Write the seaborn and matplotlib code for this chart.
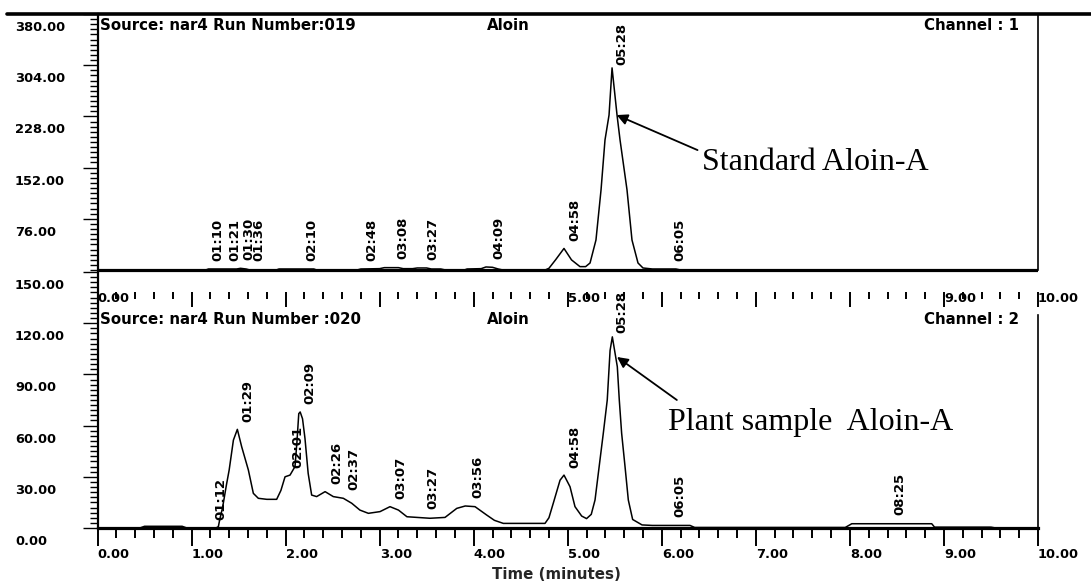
import numpy as np
import matplotlib
matplotlib.use("Agg")
import matplotlib.pyplot as plt
import seaborn as sns
from matplotlib.lines import Line2D
from matplotlib.ticker import FixedLocator
from matplotlib.transforms import ScaledTranslation

# ---------------- data ----------------
# Standard (Channel 1) chromatogram: retention time (min) / signal
std_time = [
    0.00, 1.15, 1.18, 1.48, 1.52, 1.58, 1.62, 1.90, 1.93, 2.30,
    2.33, 2.76, 2.80, 3.00, 3.05, 3.20, 3.25, 3.35, 3.40, 3.50,
    3.55, 3.65, 3.70, 3.90, 3.93, 4.08, 4.13, 4.20, 4.26, 4.31,
    4.76, 4.80, 4.87, 4.96, 5.04, 5.13, 5.19, 5.237, 5.30, 5.354,
    5.396, 5.439, 5.471, 5.524, 5.556, 5.63, 5.683, 5.747, 5.80, 5.90,
    6.15, 6.20, 10.00]
std_signal = [
    0, 0, 1.5, 1.5, 2.5, 1.5, 0, 0, 1.5, 1.5,
    0, 0, 1.5, 2, 3.5, 3.5, 2, 2, 3, 3,
    1.5, 1.5, 0, 0, 1.5, 2, 4.5, 4, 1.5, 0,
    0, 2.5, 15, 32, 15, 5, 5, 10.4, 44.5, 119,
    193, 230, 300, 230, 193, 119, 44.5, 10.4, 3, 1.5,
    1.5, 0, 0]

# Plant sample (Channel 2) chromatogram
plant_time = [
    0.00, 0.45, 0.50, 0.90, 0.95, 1.26, 1.285, 1.30, 1.33, 1.37,
    1.40, 1.445, 1.487, 1.533, 1.604, 1.657, 1.71, 1.80, 1.905, 1.95,
    1.994, 2.047, 2.10, 2.12, 2.14, 2.155, 2.18, 2.206, 2.24, 2.277,
    2.33, 2.42, 2.507, 2.614, 2.703, 2.79, 2.88, 3.004, 3.11, 3.20,
    3.29, 3.535, 3.695, 3.82, 3.91, 4.014, 4.138, 4.22, 4.315, 4.758,
    4.80, 4.846, 4.918, 4.96, 5.024, 5.077, 5.148, 5.20, 5.25, 5.29,
    5.343, 5.378, 5.42, 5.45, 5.474, 5.527, 5.548, 5.573, 5.609, 5.644,
    5.69, 5.79, 5.90, 6.30, 6.35, 7.95, 8.02, 8.87, 8.90, 9.50,
    9.55, 10.00]
plant_signal = [
    0, 0, 1, 1, 0, 0, 0.8, 5, 12, 25,
    34, 51.5, 57.8, 47.6, 34, 20.3, 17.4, 16.8, 16.8, 22,
    30, 31, 36, 50, 67, 68, 64, 52.5, 32, 19.3,
    18.4, 21.3, 18.4, 17.4, 14.5, 10.5, 8.6, 9.6, 12.5, 10.5,
    6.6, 5.7, 6.2, 11.5, 12.9, 12.5, 7.6, 4.5, 2.7, 2.7,
    6, 14.5, 28, 31, 24.2, 12.5, 7, 5.5, 8, 16.4,
    40, 55.5, 75, 104, 112, 94.5, 75, 55.5, 36, 16.4,
    5, 1.8, 1.5, 1.5, 0.3, 0.3, 2.5, 2.5, 0.5, 0.5,
    0, 0]

std_peak_labels = ["01:10", "01:21", "01:30", "01:36", "02:10", "02:48",
                   "03:08", "03:27", "04:09", "04:58", "05:28", "06:05"]
std_peak_times = [1.167, 1.35, 1.5, 1.6, 2.167, 2.8,
                  3.133, 3.45, 4.15, 4.967, 5.467, 6.083]

plant_peak_labels = ["01:12", "01:29", "02:01", "02:09", "02:26", "02:37",
                     "03:07", "03:27", "03:56", "04:58", "05:28", "06:05", "08:25"]
plant_peak_times = [1.2, 1.483, 2.017, 2.15, 2.433, 2.617,
                    3.117, 3.45, 3.933, 4.967, 5.467, 6.083, 8.417]

std_yticks = [76, 152, 228, 304, 380]
plant_yticks = [0, 30, 60, 90, 120, 150]
x_major = list(range(11))
x_labels = ["0.00", "1.00", "2.00", "3.00", "4.00", "5.00",
            "6.00", "7.00", "8.00", "9.00", "10.00"]
top_x_labels = ["0.00", "", "", "", "", "5.00", "", "", "", "9.00", "10.00"]

std_header = ["Source: nar4 Run Number:019", "Aloin", "Channel : 1"]
plant_header = ["Source: nar4 Run Number :020", "Aloin", "Channel : 2"]

# ---------------- style ----------------
sns.set_theme(style="white")
plt.rcParams["font.family"] = ["DejaVu Sans"]
plt.rcParams["font.weight"] = "bold"
plt.rcParams["text.color"] = "black"
plt.rcParams["xtick.color"] = "black"
plt.rcParams["ytick.color"] = "black"
plt.rcParams["axes.edgecolor"] = "black"

W, H = 1091, 586
fig = plt.figure(figsize=(W / 100, H / 100), dpi=100)
fig.patch.set_facecolor("white")


def rect(x0, ytop, x1, ybot):
    return [x0 / W, 1 - ybot / H, (x1 - x0) / W, (ybot - ytop) / H]


ax1 = fig.add_axes(rect(97.5, 14, 1038, 292))
ax2 = fig.add_axes(rect(97.5, 272, 1038, 528))
for ax in (ax1, ax2):
    ax.set_facecolor("none")

FS = 9.4
HDR_FS = 10.8
LBL_FS = 9.5
offset_down = ScaledTranslation(0, -7 / 100, fig.dpi_scale_trans)

# ---------------- top panel: standard ----------------
ax1.axhline(0, color="black", lw=2.3, zorder=1)
sns.lineplot(x=std_time, y=std_signal, ax=ax1, color="black", linewidth=1.1,
             estimator=None, sort=False, zorder=2)
ax1.set_xlim(0, 10)
ax1.set_ylim(-32.66, 380)
ax1.spines["top"].set_visible(False)
ax1.spines["bottom"].set_visible(False)
ax1.spines["left"].set_bounds(0, 380)
ax1.spines["left"].set_linewidth(1.6)
ax1.spines["right"].set_bounds(0, 380)
ax1.spines["right"].set_linewidth(1.2)

ax1.xaxis.set_major_locator(FixedLocator(x_major))
ax1.set_xticklabels(top_x_labels)
ax1.xaxis.set_minor_locator(FixedLocator(np.arange(0, 10.01, 0.2)))
ax1.tick_params(axis="x", which="major", direction="out", length=10.8, width=1.4,
                pad=-10.8, labelsize=FS, bottom=True)
ax1.tick_params(axis="x", which="minor", direction="out", length=5, width=1.4, bottom=True)
for lbl in ax1.get_xticklabels():
    lbl.set_ha("left")

ax1.yaxis.set_major_locator(FixedLocator(std_yticks))
ax1.set_yticklabels([f"{v:.2f}" for v in std_yticks])
ax1.yaxis.set_minor_locator(FixedLocator(np.arange(0, 380.1, 7.6)))
ax1.tick_params(axis="y", which="major", direction="out", length=10.8, width=1.0,
                pad=48.6, labelsize=FS, left=True)
ax1.tick_params(axis="y", which="minor", direction="out", length=6, width=1.0, left=True)
ax1.set_xlabel("")
ax1.set_ylabel("")

# ---------------- bottom panel: plant sample ----------------
sns.lineplot(x=plant_time, y=plant_signal, ax=ax2, color="black", linewidth=1.1,
             estimator=None, sort=False, zorder=2)
ax2.set_xlim(0, 10)
ax2.set_ylim(0, 150)
ax2.spines["top"].set_visible(False)
ax2.spines["left"].set_bounds(0, 150)
ax2.spines["left"].set_linewidth(1.6)
ax2.spines["right"].set_bounds(0, 125)
ax2.spines["right"].set_linewidth(1.2)
ax2.spines["bottom"].set_linewidth(2.3)

ax2.xaxis.set_major_locator(FixedLocator(x_major))
ax2.set_xticklabels(x_labels)
ax2.xaxis.set_minor_locator(FixedLocator(np.arange(0, 10.01, 0.2)))
ax2.tick_params(axis="x", which="major", direction="out", length=13, width=1.4,
                pad=1.5, labelsize=FS, bottom=True)
ax2.tick_params(axis="x", which="minor", direction="out", length=7, width=1.4, bottom=True)
for lbl in ax2.get_xticklabels():
    lbl.set_ha("left")

ax2.yaxis.set_major_locator(FixedLocator(plant_yticks))
ax2.set_yticklabels([f"{v:.2f}" for v in plant_yticks])
ax2.yaxis.set_minor_locator(FixedLocator(np.arange(0, 150.1, 3)))
ax2.tick_params(axis="y", which="major", direction="out", length=10.8, width=1.0,
                pad=48.6, labelsize=FS, left=True)
ax2.tick_params(axis="y", which="minor", direction="out", length=6, width=1.0, left=True)
ax2.set_ylabel("")
ax2.set_xlabel("Time (minutes)", fontsize=HDR_FS, fontweight="bold", labelpad=4, x=0.4875)

for ax in (ax1, ax2):
    for tk in ax.yaxis.get_major_ticks():
        tk.label1.set_ha("left")
        tk.label1.set_va("top")
        tk.label1.set_transform(tk.label1.get_transform() + offset_down)

# ---------------- peak labels ----------------
for lbl, t in zip(std_peak_labels, std_peak_times):
    v = np.interp(t, std_time, std_signal)
    ax1.annotate(lbl, xy=(t, v), xytext=(3, 6), textcoords="offset points",
                 rotation=90, ha="left", va="bottom", fontsize=LBL_FS, fontweight="bold")
for lbl, t in zip(plant_peak_labels, plant_peak_times):
    v = np.interp(t, plant_time, plant_signal)
    ax2.annotate(lbl, xy=(t, v), xytext=(3, 6), textcoords="offset points",
                 rotation=90, ha="left", va="bottom", fontsize=LBL_FS, fontweight="bold")

# ---------------- headers ----------------
for ax, hdr, yy in ((ax1, std_header, 0.957), (ax2, plant_header, 0.8125)):
    tr = ax.get_xaxis_transform()
    ax.text(0.028, yy, hdr[0], transform=tr, ha="left", va="center", fontsize=HDR_FS, fontweight="bold")
    ax.text(4.365, yy, hdr[1], transform=tr, ha="center", va="center", fontsize=HDR_FS, fontweight="bold")
    ax.text(9.80, yy, hdr[2], transform=tr, ha="right", va="center", fontsize=HDR_FS, fontweight="bold")

# ---------------- callouts ----------------
arrow_kw = dict(arrowstyle="-|>", color="black", lw=1.3, mutation_scale=16,
                shrinkA=0, shrinkB=0)
ax1.annotate("", xy=(5.52, 230), xytext=(6.38, 178), arrowprops=arrow_kw)
ax1.text(6.43, 148.4, "Standard Aloin-A", family="Liberation Serif", fontweight="normal",
         fontsize=23, ha="left", va="baseline")
ax2.annotate("", xy=(5.524, 100.2), xytext=(6.16, 75), arrowprops=arrow_kw)
ax2.text(6.065, 57.4, "Plant sample  Aloin-A", family="Liberation Serif", fontweight="normal",
         fontsize=23, ha="left", va="baseline")

# top frame line spanning the figure
fig.add_artist(Line2D([7 / W, 1.0], [1 - 14 / H, 1 - 14 / H], color="black", lw=2.6))

fig.savefig("out.png", dpi=100, facecolor="white")
